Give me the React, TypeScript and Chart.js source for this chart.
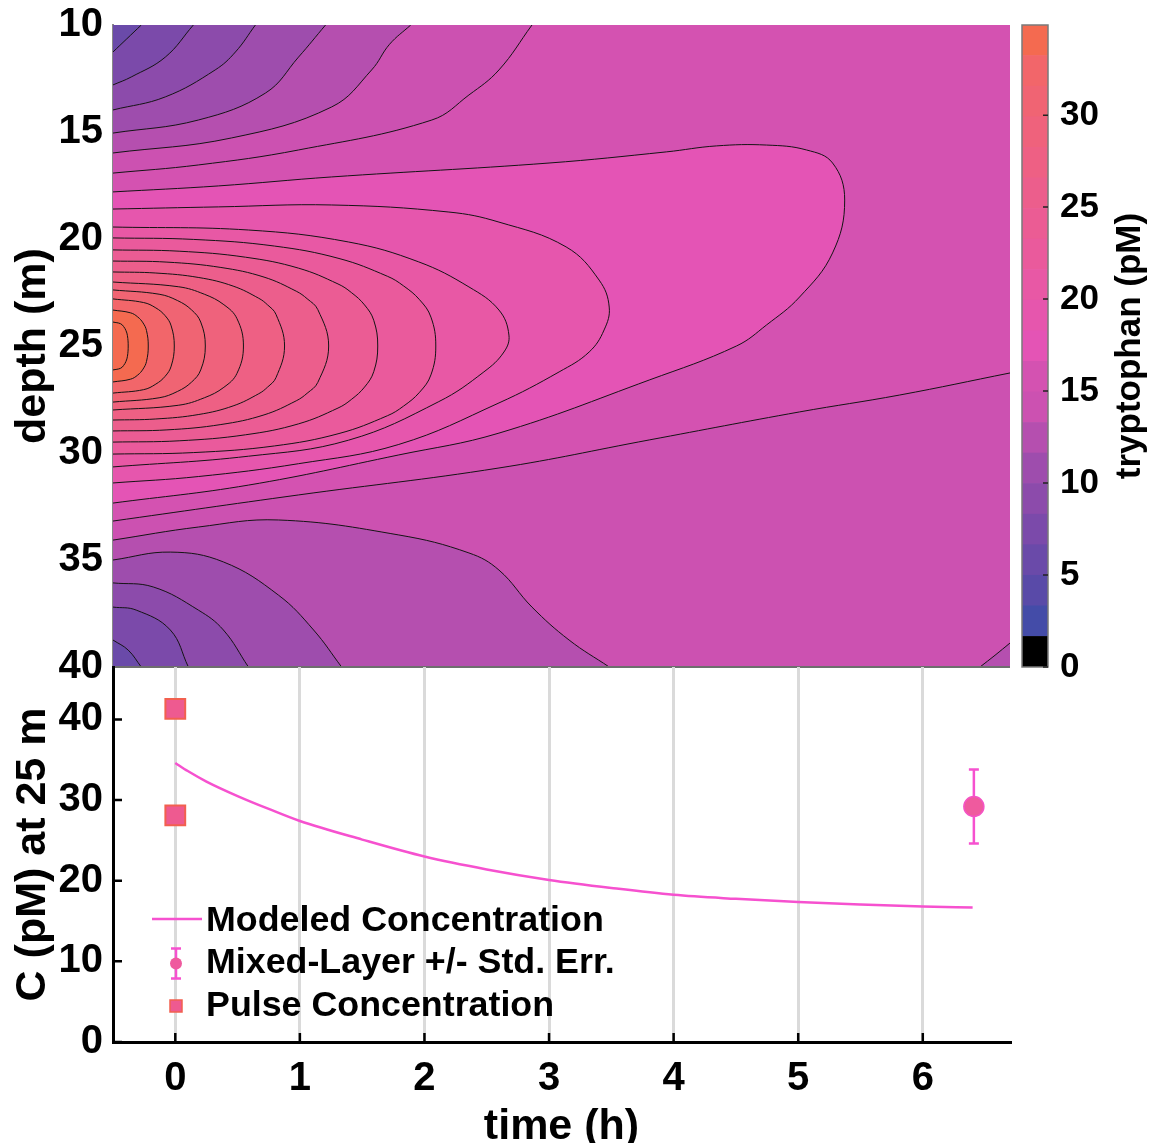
import React, { useEffect, useRef } from 'react';
import { Chart, registerables } from 'chart.js';

Chart.register(...registerables);

const FONT = "'Liberation Sans', Arial, Helvetica, sans-serif";

// ---------------- axes ----------------
const timeMin = -0.5;
const timeMax = 6.7;
const depthMin = 10;
const depthMax = 40;
const depthTicks = [10, 15, 20, 25, 30, 35, 40];
const timeTicks = [0, 1, 2, 3, 4, 5, 6];
const concMax = 46.5;
const concTicks = [0, 10, 20, 30, 40];
const colorbarMax = 34.9;
const colorbarTicks = [0, 5, 10, 15, 20, 25, 30];
const colorbarTitle = 'tryptophan (pM)';

// ---------------- contour levels (level k = k * levelStep pM) ----------------
const levelStep = 1.662;
const baseLevel = 3;
const bandColors = [
  '#000000', '#444CA8', '#594AA8', '#6A4AA9', '#7B4AAA', '#8C4BAB', '#9E4DAD',
  '#B54FAF', '#CC51B1', '#D452B1', '#E454B5', '#E656AD', '#E858A5', '#EA5A9C',
  '#EB5C94', '#EC5E8C', '#EE6084', '#EF627C', '#F06473', '#F2666A', '#F46A50',
];

type Pt = [number, number]; // [time (h), depth (m)]

// contour lines
const L4_upper: Pt[] = [[-0.5, 11.26], [-0.39, 10.65], [-0.273, 10.0]];
const L4_lower: Pt[] = [[-0.5, 38.74], [-0.378, 39.21], [-0.273, 40.0]];
const L5_upper: Pt[] = [[-0.5, 12.8], [-0.354, 12.43], [-0.08, 11.5], [0.145, 10.0]];
const L5_lower: Pt[] = [[-0.5, 37.2], [-0.314, 37.34], [-0.04, 38.27], [0.105, 40.0]];
const L6_upper: Pt[] = [[-0.5, 13.97], [-0.08, 13.36], [0.32, 12.1], [0.483, 11.26], [0.643, 10.0]];
const L6_lower: Pt[] = [[-0.5, 36.07], [-0.177, 36.26], [0.185, 37.34], [0.386, 38.27], [0.587, 40.0]];
const L7_upper: Pt[] = [[-0.5, 15.05], [0.185, 14.44], [0.724, 13.18], [0.989, 11.5], [1.206, 10.0]];
const L7_lower: Pt[] = [[-0.5, 35.0], [-0.04, 34.63], [0.386, 35.09], [0.828, 36.64], [1.11, 38.27], [1.335, 40.0]];
const L8_upper: Pt[] = [[-0.5, 15.98], [0.45, 15.28], [1.255, 13.83], [1.576, 12.1], [1.72, 10.9], [1.89, 10.0]];
const L8_lower: Pt[] = [[-0.5, 34.07], [0.185, 33.46], [0.828, 33.13], [1.794, 33.83], [2.357, 34.67], [2.598, 35.47], [2.863, 37.2], [3.161, 38.74], [3.483, 40.0]];
const L8_corner: Pt[] = [[6.459, 40.0], [6.58, 39.45], [6.7, 38.88]];
const L9_upper: Pt[] = [[-0.5, 16.92], [0.185, 16.54], [0.989, 15.84], [2.059, 14.44], [2.357, 13.27], [2.598, 12.1], [2.863, 10.0]];
const L9_lower: Pt[] = [[-0.5, 33.18], [0.989, 31.96], [2.598, 30.7], [3.804, 29.39], [5.011, 28.08], [5.815, 27.29], [6.7, 26.26]];
const L10_loop: Pt[] = [[-0.5, 17.8], [0.346, 17.52], [1.255, 17.1], [3.0, 16.45], [3.941, 15.93], [4.343, 15.65], [4.745, 15.61], [5.067, 15.84], [5.276, 16.45], [5.373, 18.18], [5.276, 20.65], [5.011, 22.71], [4.745, 24.02], [4.504, 25.0], [3.804, 26.59], [2.598, 29.07], [1.794, 30.09], [0.587, 31.5], [-0.5, 32.34]];
const L11_loop: Pt[] = [[-0.5, 18.6], [0.346, 18.5], [1.255, 18.41], [2.196, 18.74], [2.598, 19.21], [3.137, 20.37], [3.402, 21.92], [3.483, 23.18], [3.442, 24.25], [3.322, 25.28], [3.081, 26.21], [2.598, 27.66], [1.794, 29.6], [0.989, 30.5], [0.185, 31.1], [-0.5, 31.4]];
const L12_loop: Pt[] = [[-0.5, 19.44], [0.587, 19.58], [1.391, 20.14], [1.954, 21.07], [2.357, 22.24], [2.598, 23.32], [2.678, 24.49], [2.638, 25.28], [2.477, 26.21], [2.115, 27.6], [1.391, 29.4], [0.587, 30.15], [-0.5, 30.65]];
const L13_loop: Pt[] = [[-0.5, 19.95], [0.148, 20.02], [0.796, 20.33], [1.314, 20.91], [1.702, 21.74], [1.832, 22.19], [1.961, 22.84], [2.052, 23.65], [2.091, 25.0], [2.052, 26.35], [1.961, 27.16], [1.832, 27.81], [1.702, 28.26], [1.314, 29.09], [0.796, 29.67], [0.148, 29.98], [-0.5, 30.05]];
const L14_loop: Pt[] = [[-0.5, 20.51], [0.031, 20.57], [0.563, 20.85], [0.988, 21.36], [1.306, 22.1], [1.413, 22.5], [1.519, 23.08], [1.593, 23.8], [1.625, 25.0], [1.593, 26.2], [1.519, 26.92], [1.413, 27.5], [1.306, 27.9], [0.988, 28.64], [0.563, 29.15], [0.031, 29.43], [-0.5, 29.49]];
const L15_loop: Pt[] = [[-0.5, 21.03], [-0.067, 21.08], [0.366, 21.33], [0.712, 21.78], [0.971, 22.44], [1.058, 22.79], [1.144, 23.3], [1.231, 25.0], [1.144, 26.7], [1.058, 27.21], [0.971, 27.56], [0.712, 28.22], [0.366, 28.67], [-0.067, 28.92], [-0.5, 28.97]];
const L16_loop: Pt[] = [[-0.5, 21.54], [-0.156, 21.59], [0.189, 21.8], [0.464, 22.2], [0.67, 22.77], [0.739, 23.07], [0.808, 23.52], [0.877, 25.0], [0.808, 26.48], [0.739, 26.93], [0.67, 27.23], [0.464, 27.8], [0.189, 28.2], [-0.156, 28.41], [-0.5, 28.46]];
const L17_loop: Pt[] = [[-0.5, 22.01], [0.024, 22.23], [0.233, 22.58], [0.39, 23.07], [0.495, 23.72], [0.547, 25.0], [0.495, 26.28], [0.39, 26.93], [0.233, 27.42], [0.024, 27.77], [-0.5, 27.99]];
const L18_loop: Pt[] = [[-0.5, 22.38], [-0.13, 22.58], [0.019, 22.88], [0.13, 23.31], [0.204, 23.88], [0.241, 25.0], [0.204, 26.12], [0.13, 26.69], [0.019, 27.12], [-0.13, 27.42], [-0.5, 27.62]];
const L19_loop: Pt[] = [[-0.5, 22.8], [-0.254, 22.97], [-0.156, 23.22], [-0.082, 23.58], [-0.033, 24.06], [-0.008, 25.0], [-0.033, 25.94], [-0.082, 26.42], [-0.156, 26.78], [-0.254, 27.04], [-0.5, 27.2]];
const L20_loop: Pt[] = [[-0.5, 23.32], [-0.359, 23.45], [-0.302, 23.64], [-0.259, 23.92], [-0.231, 24.28], [-0.217, 25.0], [-0.231, 25.72], [-0.259, 26.08], [-0.302, 26.36], [-0.359, 26.55], [-0.5, 26.68]];
const L21_loop: Pt[] = [[-0.5, 23.88], [-0.439, 23.96], [-0.415, 24.09], [-0.396, 24.28], [-0.384, 24.52], [-0.378, 25.0], [-0.384, 25.48], [-0.396, 25.72], [-0.415, 25.91], [-0.439, 26.04], [-0.5, 26.12]];

type Region = { level: number; upper?: Pt[]; lower?: Pt[]; corner?: Pt[]; toRight?: boolean; loop?: Pt[] };
const contourRegions: Region[] = [
  { level: 4, upper: L4_upper, lower: L4_lower },
  { level: 5, upper: L5_upper, lower: L5_lower },
  { level: 6, upper: L6_upper, lower: L6_lower },
  { level: 7, upper: L7_upper, lower: L7_lower },
  { level: 8, upper: L8_upper, lower: L8_lower, corner: L8_corner },
  { level: 9, upper: L9_upper, lower: L9_lower, toRight: true },
  { level: 10, loop: L10_loop },
  { level: 11, loop: L11_loop },
  { level: 12, loop: L12_loop },
  { level: 13, loop: L13_loop },
  { level: 14, loop: L14_loop },
  { level: 15, loop: L15_loop },
  { level: 16, loop: L16_loop },
  { level: 17, loop: L17_loop },
  { level: 18, loop: L18_loop },
  { level: 19, loop: L19_loop },
  { level: 20, loop: L20_loop },
  { level: 21, loop: L21_loop },
];
const contourLines: Pt[][] = [
  L4_upper, L4_lower, L5_upper, L5_lower, L6_upper, L6_lower, L7_upper, L7_lower,
  L8_upper, L8_lower, L8_corner, L9_upper, L9_lower, L10_loop, L11_loop, L12_loop,
  L13_loop, L14_loop, L15_loop, L16_loop, L17_loop, L18_loop, L19_loop, L20_loop, L21_loop,
];

// ---------------- concentration at 25 m ----------------
const modeledTime = [0, 0.1, 0.25, 0.5, 0.75, 1, 1.5, 2, 2.5, 3, 3.5, 4, 4.5, 5, 5.5, 6, 6.4];
const modeledConc = [34.6, 33.6, 32.3, 30.5, 28.9, 27.4, 25.1, 23.0, 21.4, 20.1, 19.1, 18.25, 17.75, 17.35, 17.05, 16.8, 16.67];
const mixedTime = [6.41];
const mixedConc = [29.2];
const mixedErr = [4.6];
const pulseTime = [0, 0];
const pulseConc = [41.3, 28.1];
const seriesLabels = ['Modeled Concentration', 'Mixed-Layer +/- Std. Err.', 'Pulse Concentration'];

// ---------------- styles ----------------
const TENSION = 0.4;
const LINE_PINK = '#F651CF';
const MIX_FILL = '#EF5A9E';
const MIX_EDGE = '#F553C4';
const PULSE_FILL = '#EE5A90';
const PULSE_EDGE = '#F2604F';
const bold = (size: number) => ({ family: FONT, size, weight: 'bold' as const });

function bandColor(level: number) {
  return bandColors[Math.max(0, Math.min(bandColors.length - 1, level))];
}

// fix an axis box size and drop the automatic label paddings
const fixWidth = (w: number) => (s: any) => {
  s.width = w;
  s.paddingTop = 0; s.paddingBottom = 0; s.paddingLeft = 0; s.paddingRight = 0;
};
const fixHeight = (h: number) => (s: any) => {
  s.height = h;
  s.paddingTop = 0; s.paddingBottom = 0; s.paddingLeft = 0; s.paddingRight = 0;
};

// same spline construction as Chart.js line elements (tension, no capping)
function traceSpline(ctx: CanvasRenderingContext2D, pts: { x: number; y: number }[], first: boolean) {
  const n = pts.length;
  const cps = pts.map((cur, i) => {
    const prev = i > 0 ? pts[i - 1] : cur;
    const next = i < n - 1 ? pts[i + 1] : cur;
    const d01 = Math.hypot(cur.x - prev.x, cur.y - prev.y);
    const d12 = Math.hypot(next.x - cur.x, next.y - cur.y);
    let s01 = d01 / (d01 + d12);
    let s12 = d12 / (d01 + d12);
    if (isNaN(s01)) s01 = 0;
    if (isNaN(s12)) s12 = 0;
    const fa = TENSION * s01;
    const fb = TENSION * s12;
    return {
      px: cur.x - fa * (next.x - prev.x), py: cur.y - fa * (next.y - prev.y),
      nx: cur.x + fb * (next.x - prev.x), ny: cur.y + fb * (next.y - prev.y),
    };
  });
  if (first) ctx.moveTo(pts[0].x, pts[0].y);
  else ctx.lineTo(pts[0].x, pts[0].y);
  for (let i = 1; i < n; i++) {
    ctx.bezierCurveTo(cps[i - 1].nx, cps[i - 1].ny, cps[i].px, cps[i].py, pts[i].x, pts[i].y);
  }
}

const contourFillPlugin = {
  id: 'contourFill',
  beforeDatasetsDraw(chart: any) {
    const { ctx, chartArea: a, scales } = chart;
    const xs = scales.x;
    const ys = scales.y;
    const px = (p: Pt) => ({ x: xs.getPixelForValue(p[0]), y: ys.getPixelForValue(p[1]) });
    const to = (p: Pt) => { const q = px(p); ctx.lineTo(q.x, q.y); };
    const T0 = timeMin - 0.6, T1 = timeMax + 0.6, D0 = depthMin - 3, D1 = depthMax + 3;
    ctx.save();
    ctx.beginPath();
    ctx.rect(a.left, a.top, a.right - a.left, a.bottom - a.top);
    ctx.clip();
    ctx.fillStyle = bandColor(baseLevel);
    ctx.fillRect(a.left, a.top, a.right - a.left, a.bottom - a.top);
    for (const r of contourRegions) {
      ctx.beginPath();
      if (r.loop) {
        const lp = r.loop;
        traceSpline(ctx, lp.map(px), true);
        to([T0, lp[lp.length - 1][1]]);
        to([T0, lp[0][1]]);
      } else {
        const up = r.upper as Pt[];
        const lo = r.lower as Pt[];
        traceSpline(ctx, up.map(px), true);
        to([up[up.length - 1][0], D0]);
        to([T1, D0]);
        if (r.toRight) {
          to([T1, lo[lo.length - 1][1]]);
        } else {
          if (r.corner) {
            const c = r.corner;
            to([T1, c[c.length - 1][1]]);
            traceSpline(ctx, [...c].reverse().map(px), false);
            to([c[0][0], D1]);
          } else {
            to([T1, D1]);
          }
          to([lo[lo.length - 1][0], D1]);
        }
        traceSpline(ctx, [...lo].reverse().map(px), false);
        to([T0, lo[0][1]]);
        to([T0, up[0][1]]);
      }
      ctx.closePath();
      ctx.fillStyle = bandColor(r.level);
      ctx.fill();
    }
    ctx.restore();
  },
  afterDraw(chart: any) {
    const { ctx, chartArea: a } = chart;
    ctx.save();
    ctx.strokeStyle = '#6e6e6e';
    ctx.lineWidth = 2;
    ctx.beginPath();
    ctx.moveTo(a.left, a.bottom);
    ctx.lineTo(a.right, a.bottom);
    ctx.stroke();
    ctx.restore();
  },
};

const bottomDecorPlugin = {
  id: 'bottomDecor',
  beforeDatasetsDraw(chart: any) {
    const { ctx, scales: { x, y } } = chart;
    ctx.save();
    ctx.strokeStyle = LINE_PINK;
    ctx.lineWidth = 2.5;
    mixedTime.forEach((t, i) => {
      const xx = x.getPixelForValue(t);
      const yLo = y.getPixelForValue(mixedConc[i] - mixedErr[i]);
      const yHi = y.getPixelForValue(mixedConc[i] + mixedErr[i]);
      ctx.beginPath();
      ctx.moveTo(xx, yLo); ctx.lineTo(xx, yHi);
      ctx.moveTo(xx - 5, yLo); ctx.lineTo(xx + 5, yLo);
      ctx.moveTo(xx - 5, yHi); ctx.lineTo(xx + 5, yHi);
      ctx.stroke();
    });
    ctx.restore();
  },
  afterDraw(chart: any) {
    const { ctx, chartArea: a, scales: { x, y } } = chart;
    ctx.save();
    // inward ticks
    ctx.strokeStyle = '#000';
    ctx.lineWidth = 2.5;
    ctx.beginPath();
    for (const v of timeTicks) {
      const xx = x.getPixelForValue(v);
      ctx.moveTo(xx, a.bottom); ctx.lineTo(xx, a.bottom - 9);
    }
    for (const v of concTicks) {
      const yy = y.getPixelForValue(v);
      ctx.moveTo(a.left, yy); ctx.lineTo(a.left + 9, yy);
    }
    ctx.stroke();
    // legend
    const symX = a.left + 63;
    const textX = a.left + 93;
    const row0 = a.top + 254;
    const rowH = 42.5;
    ctx.font = `bold 35.8px ${FONT}`;
    ctx.textBaseline = 'middle';
    ctx.textAlign = 'left';
    chart.data.datasets.forEach((ds: any, i: number) => {
      const yy = row0 + i * rowH;
      if (i === 0) {
        ctx.strokeStyle = LINE_PINK; ctx.lineWidth = 2.5;
        ctx.beginPath(); ctx.moveTo(symX - 24, yy - 2); ctx.lineTo(symX + 26, yy - 2); ctx.stroke();
      } else if (i === 1) {
        ctx.strokeStyle = LINE_PINK; ctx.lineWidth = 2.5;
        ctx.beginPath();
        ctx.moveTo(symX, yy - 15); ctx.lineTo(symX, yy + 15);
        ctx.moveTo(symX - 5, yy - 15); ctx.lineTo(symX + 5, yy - 15);
        ctx.moveTo(symX - 5, yy + 15); ctx.lineTo(symX + 5, yy + 15);
        ctx.stroke();
        ctx.fillStyle = MIX_FILL;
        ctx.beginPath(); ctx.arc(symX, yy, 6, 0, Math.PI * 2); ctx.fill();
      } else {
        ctx.fillStyle = PULSE_FILL; ctx.strokeStyle = PULSE_EDGE; ctx.lineWidth = 1.5;
        ctx.fillRect(symX - 6, yy - 6, 12, 12);
        ctx.strokeRect(symX - 6, yy - 6, 12, 12);
      }
      ctx.fillStyle = '#000';
      ctx.fillText(ds.label, textX, yy);
    });
    ctx.restore();
  },
};

const colorbarPlugin = {
  id: 'colorbarDecor',
  afterDraw(chart: any) {
    const { ctx, chartArea: a, scales: { y } } = chart;
    ctx.save();
    ctx.strokeStyle = '#7a7a7a';
    ctx.lineWidth = 1.5;
    ctx.strokeRect(a.left, a.top, a.right - a.left, a.bottom - a.top);
    ctx.strokeStyle = '#222';
    ctx.beginPath();
    for (const v of colorbarTicks) {
      const yy = y.getPixelForValue(v);
      ctx.moveTo(a.right - 5, yy); ctx.lineTo(a.right, yy);
    }
    ctx.stroke();
    ctx.translate(a.right + 82, (a.top + a.bottom) / 2);
    ctx.rotate(-Math.PI / 2);
    ctx.font = `bold 35px ${FONT}`;
    ctx.fillStyle = '#000';
    ctx.textAlign = 'center';
    ctx.textBaseline = 'middle';
    ctx.fillText(colorbarTitle, 0, 0);
    ctx.restore();
  },
};

function topConfig(): any {
  return {
    type: 'line',
    data: {
      datasets: contourLines.map((pts, i) => ({
        label: `contour ${i}`,
        data: pts.map(([t, d]) => ({ x: t, y: d })),
        borderColor: '#141414',
        borderWidth: 1,
        pointRadius: 0,
        pointHoverRadius: 0,
        fill: false,
        tension: TENSION,
      })),
    },
    options: {
      responsive: false,
      animation: false,
      events: [],
      layout: { autoPadding: false, padding: { left: 0, top: 25, right: 5, bottom: 33 } },
      elements: { line: { capBezierPoints: false } },
      plugins: { legend: { display: false }, tooltip: { enabled: false } },
      scales: {
        x: { type: 'linear', min: timeMin, max: timeMax, display: false },
        y: {
          type: 'linear', reverse: true, min: depthMin, max: depthMax,
          afterBuildTicks: (s: any) => { s.ticks = depthTicks.map((v) => ({ value: v })); },
          afterFit: fixWidth(113),
          ticks: { font: bold(40), color: '#000', padding: 10 },
          grid: { display: false, drawTicks: false },
          border: { display: true, color: '#888', width: 2 },
          title: { display: true, text: 'depth (m)', font: bold(43), color: '#000', padding: { top: 7, bottom: 0 } },
        },
      },
    },
    plugins: [contourFillPlugin],
  };
}

function bottomConfig(): any {
  return {
    type: 'line',
    data: {
      datasets: [
        {
          label: seriesLabels[0],
          data: modeledTime.map((t, i) => ({ x: t, y: modeledConc[i] })),
          borderColor: LINE_PINK, borderWidth: 2.5, pointRadius: 0, fill: false,
          cubicInterpolationMode: 'monotone',
        },
        {
          label: seriesLabels[1],
          data: mixedTime.map((t, i) => ({ x: t, y: mixedConc[i] })),
          showLine: false, pointStyle: 'circle', pointRadius: 10,
          backgroundColor: MIX_FILL, borderColor: MIX_EDGE, borderWidth: 1.5,
        },
        {
          label: seriesLabels[2],
          data: pulseTime.map((t, i) => ({ x: t, y: pulseConc[i] })),
          showLine: false, pointStyle: 'rect', pointRadius: 14,
          backgroundColor: PULSE_FILL, borderColor: PULSE_EDGE, borderWidth: 2,
        },
      ],
    },
    options: {
      responsive: false,
      animation: false,
      events: [],
      layout: { autoPadding: false, padding: { left: 0, top: 17, right: 5, bottom: 0 } },
      plugins: { legend: { display: false }, tooltip: { enabled: false } },
      scales: {
        x: {
          type: 'linear', min: timeMin, max: timeMax,
          afterBuildTicks: (s: any) => { s.ticks = timeTicks.map((v) => ({ value: v })); },
          afterFit: fixHeight(138),
          ticks: { font: bold(40), color: '#000', padding: 13, maxRotation: 0 },
          grid: { display: true, color: '#DADADA', lineWidth: 3, drawTicks: false },
          border: { display: true, color: '#000', width: 3 },
          title: { display: true, text: 'time (h)', font: bold(43), color: '#000', padding: { top: 0, bottom: 27 } },
        },
        y: {
          type: 'linear', min: 0, max: concMax,
          afterBuildTicks: (s: any) => { s.ticks = concTicks.map((v) => ({ value: v })); },
          afterFit: fixWidth(113),
          ticks: { font: bold(40), color: '#000', padding: 10 },
          grid: { display: false, drawTicks: false },
          border: { display: true, color: '#000', width: 3 },
          title: { display: true, text: 'C (pM) at 25 m', font: bold(43), color: '#000', padding: { top: 7, bottom: 0 } },
        },
      },
    },
    plugins: [bottomDecorPlugin],
  };
}

function colorbarConfig(): any {
  return {
    type: 'bar',
    data: {
      labels: ['tryptophan'],
      datasets: bandColors.map((c, i) => ({
        label: `band ${i}`,
        data: [levelStep],
        backgroundColor: c,
        borderWidth: 0,
        barPercentage: 1,
        categoryPercentage: 1,
      })),
    },
    options: {
      responsive: false,
      animation: false,
      events: [],
      layout: { autoPadding: false, padding: { left: 7, top: 25, right: 0, bottom: 33 } },
      plugins: { legend: { display: false }, tooltip: { enabled: false } },
      scales: {
        x: { stacked: true, display: false },
        y: {
          stacked: true, position: 'right', min: 0, max: colorbarMax,
          afterBuildTicks: (s: any) => { s.ticks = colorbarTicks.map((v) => ({ value: v })); },
          afterFit: fixWidth(105),
          ticks: { font: bold(35), color: '#000', padding: 12 },
          grid: { display: false, drawTicks: false },
          border: { display: false },
        },
      },
    },
    plugins: [colorbarPlugin],
  };
}

export default function App() {
  const topRef = useRef<HTMLCanvasElement>(null);
  const botRef = useRef<HTMLCanvasElement>(null);
  const cbRef = useRef<HTMLCanvasElement>(null);

  useEffect(() => {
    const charts = [
      new Chart(topRef.current as HTMLCanvasElement, topConfig()),
      new Chart(botRef.current as HTMLCanvasElement, bottomConfig()),
      new Chart(cbRef.current as HTMLCanvasElement, colorbarConfig()),
    ];
    return () => charts.forEach((c) => c.destroy());
  }, []);

  return (
    <div style={{ position: 'absolute', left: 0, top: 0, width: 1153, height: 1143, overflow: 'hidden', background: '#fff' }}>
      <canvas ref={topRef} width={1015} height={700} style={{ position: 'absolute', left: 0, top: 0, width: 1015, height: 700 }} />
      <canvas ref={botRef} width={1015} height={530} style={{ position: 'absolute', left: 0, top: 650, width: 1015, height: 530 }} />
      <canvas ref={cbRef} width={138} height={700} style={{ position: 'absolute', left: 1015, top: 0, width: 138, height: 700 }} />
    </div>
  );
}
